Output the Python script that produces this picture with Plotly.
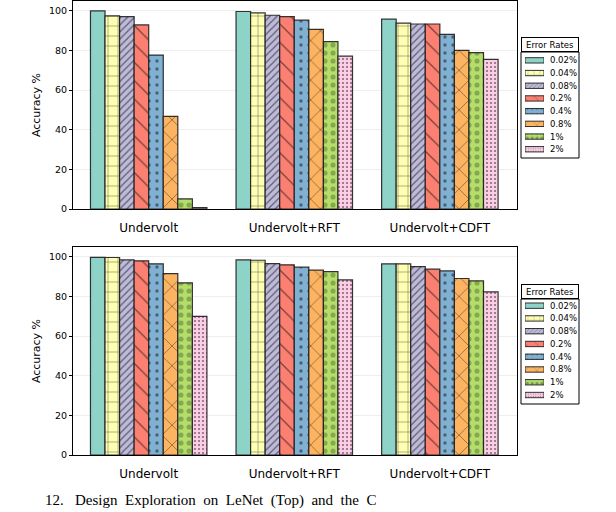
import plotly.graph_objects as go

groups = ["Undervolt", "Undervolt+RFT", "Undervolt+CDFT"]
rates = ["0.02%", "0.04%", "0.08%", "0.2%", "0.4%", "0.8%", "1%", "2%"]

# accuracy per error rate, one value per group (top chart)
top_vals = {
    "0.02%": [100.0, 99.7, 95.8],
    "0.04%": [97.5, 99.0, 93.8],
    "0.08%": [97.1, 97.8, 93.4],
    "0.2%": [92.9, 97.1, 93.4],
    "0.4%": [77.7, 95.3, 88.2],
    "0.8%": [46.8, 90.7, 80.1],
    "1%": [5.1, 84.5, 78.9],
    "2%": [0.7, 77.2, 75.5],
}
# bottom chart
bot_vals = {
    "0.02%": [99.8, 98.5, 96.5],
    "0.04%": [99.7, 98.3, 96.5],
    "0.08%": [98.5, 96.6, 95.1],
    "0.2%": [98.0, 96.0, 93.8],
    "0.4%": [96.5, 94.8, 92.9],
    "0.8%": [91.6, 93.3, 89.1],
    "1%": [86.9, 92.6, 87.9],
    "2%": [70.0, 88.4, 82.3],
}

colors = ["#8dd3c7", "#ffffb3", "#bebada", "#fb8072", "#80b1d3", "#fdb462", "#b3de69", "#fccde5"]
pat_shape = ["", "+", "/", "\\", ".", "x", ".", "."]
pat_size = [8, 10, 5, 13, 8, 14, 8, 4]
pat_solid = [0.1, 0.12, 0.25, 0.1, 0.15, 0.1, 0.32, 0.2]
pat_fg = ["black", "black", "black", "black", "#111111", "black", "rgba(20,20,20,0.55)", "black"]

W, H = 616, 512

def px(p):
    return p / W

def py(p):
    return 1 - p / H

edge = dict(color="rgba(30,30,30,0.9)", width=1.2)

fig = go.Figure()
for i, r in enumerate(rates):
    pat = dict(shape=pat_shape[i], size=pat_size[i], solidity=pat_solid[i], fgcolor=pat_fg[i])
    for vals, xa, ya in [(top_vals, "x", "y"), (bot_vals, "x2", "y2")]:
        fig.add_trace(go.Bar(
            x=groups, y=vals[r], name=r, xaxis=xa, yaxis=ya,
            marker=dict(color=colors[i], pattern=pat, line=edge),
            showlegend=False,
        ))

# legend swatches (one horizontal bar per error rate)
for xa, ya in [("x3", "y3"), ("x4", "y4")]:
    fig.add_trace(go.Bar(
        y=rates, x=[1] * len(rates), orientation="h", xaxis=xa, yaxis=ya,
        width=0.42, showlegend=False, hoverinfo="skip",
        marker=dict(color=colors,
                    pattern=dict(shape=pat_shape, size=[s * 0.6 for s in pat_size],
                                 solidity=pat_solid, fgcolor=pat_fg),
                    line=dict(color="rgba(30,30,30,0.9)", width=1)),
    ))

L, R = 73, 517
axis_common = dict(showline=True, linecolor="black", linewidth=1, mirror=True)
xcommon = dict(axis_common, type="category", range=[-0.52, 2.53], ticks="outside",
               ticklen=8, tickcolor="rgba(0,0,0,0)", showgrid=False,
               tickfont=dict(family="DejaVu Sans", size=12, color="black"),
               domain=[px(L), px(R)])
ycommon = dict(axis_common, range=[0, 105], tickvals=[0, 20, 40, 60, 80, 100], ticks="outside",
               ticklen=3, tickcolor="black", showgrid=True, gridcolor="#eeeeee", gridwidth=1,
               tickfont=dict(family="DejaVu Sans", size=9.5, color="black"),
               title=dict(text="Accuracy %", font=dict(family="DejaVu Sans", size=11, color="black"),
                          standoff=6), zeroline=False)

leg_x = dict(visible=False, range=[0, 1], domain=[px(525), px(544)], fixedrange=True)
leg_y = dict(type="category", autorange="reversed", side="right", showline=False,
             showgrid=False, zeroline=False, ticks="", ticklabelstandoff=5,
             tickfont=dict(family="DejaVu Sans", size=8.5, color="black"))

fig.update_layout(
    width=W, height=H,
    margin=dict(l=0, r=0, t=0, b=0, autoexpand=False),
    paper_bgcolor="white", plot_bgcolor="white",
    barmode="group", bargap=0.2, bargroupgap=0,
    xaxis=dict(xcommon, anchor="y"),
    yaxis=dict(ycommon, domain=[py(209), py(1)], anchor="x"),
    xaxis2=dict(xcommon, anchor="y2"),
    yaxis2=dict(ycommon, domain=[py(455), py(247)], anchor="x2"),
    xaxis3=dict(leg_x, anchor="y3"),
    yaxis3=dict(leg_y, domain=[py(155.6), py(54)], anchor="x3"),
    xaxis4=dict(leg_x, anchor="y4"),
    yaxis4=dict(leg_y, domain=[py(401.4), py(299.3)], anchor="x4"),
)

# legend frames and titles
for title_top, box_top, box_bot in [(37, 52, 158), (284, 299, 404)]:
    fig.add_shape(type="rect", xref="paper", yref="paper",
                  x0=px(521), x1=px(579), y0=py(box_bot), y1=py(box_top),
                  line=dict(color="black", width=1), fillcolor="white", layer="below")
    fig.add_annotation(
        text="Error Rates", xref="paper", yref="paper", x=px(521), y=py(title_top),
        xanchor="left", yanchor="top", showarrow=False, width=54, height=11,
        font=dict(family="DejaVu Sans", size=8.5, color="black"),
        bordercolor="black", borderwidth=1, borderpad=1, bgcolor="white",
    )

fig.add_annotation(
    text="12.   Design  Exploration  on  LeNet  (Top)  and  the  C",
    xref="paper", yref="paper", x=px(43), y=py(511), xanchor="left", yanchor="bottom",
    showarrow=False, font=dict(family="Liberation Serif", size=15, color="black"),
)

fig.write_html("out.html")
